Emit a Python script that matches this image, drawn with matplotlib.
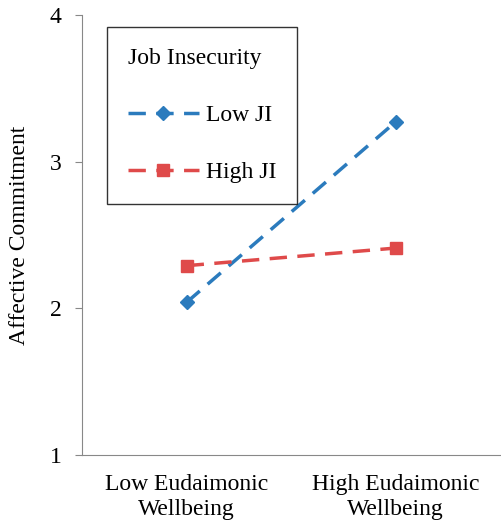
import matplotlib
matplotlib.use("Agg")
import matplotlib.pyplot as plt

categories = ["Low Eudaimonic\nWellbeing", "High Eudaimonic\nWellbeing"]
low_ji = [2.04, 3.27]
high_ji = [2.29, 2.41]

plt.rcParams['font.family'] = ['Liberation Serif', 'DejaVu Serif']
fig = plt.figure(figsize=(5.01, 5.32), dpi=100)
ax = fig.add_axes([0.164, 0.145, 0.834, 0.827])
x = list(range(len(categories)))
ax.plot(x, low_ji, linestyle=(0, (5, 3)), color='#2b7bbd', lw=2.5, marker='D', ms=7, label='Low JI')
ax.plot(x, high_ji, linestyle=(0, (5, 3)), color='#df4a4a', lw=2.5, marker='s', ms=9, label='High JI')
ax.set_xlim(-0.5, 1.5)
ax.set_ylim(1, 4)
ax.set_yticks([1, 2, 3, 4])
ax.set_xticks(x)
ax.set_xticklabels(categories, fontsize=17)
ax.tick_params(axis='x', length=0, pad=14)
ax.tick_params(axis='y', labelsize=17, direction='out', length=5, color='#888888', pad=10)
ax.set_ylabel('Affective Commitment', fontsize=17, labelpad=14)
for s in ['top', 'right']:
    ax.spines[s].set_visible(False)
for s in ['left', 'bottom']:
    ax.spines[s].set_color('#888888')
leg = ax.legend(title='Job Insecurity', loc='upper left', bbox_to_anchor=(0.03, 1.0),
                fontsize=17, title_fontsize=17, fancybox=False, edgecolor='black',
                handlelength=3.0, labelspacing=1.5, borderpad=0.9, handletextpad=0.3,
                alignment='left')
leg.get_frame().set_linewidth(1.0)
fig.savefig('out.png', dpi=100)
